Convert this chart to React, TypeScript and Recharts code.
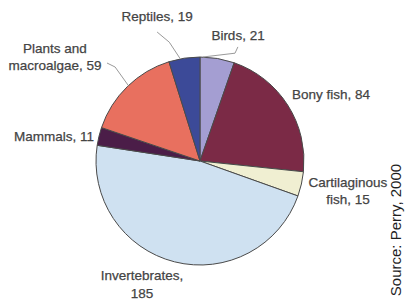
import React from 'react';
import { PieChart, Pie, Cell } from 'recharts';

const names = ['Birds', 'Bony fish', 'Cartilaginous fish', 'Invertebrates', 'Mammals', 'Plants and macroalgae', 'Reptiles'];
const values = [21, 84, 15, 185, 11, 59, 19];
const labelLines: string[][] = [
  ['Birds, 21'],
  ['Bony fish, 84'],
  ['Cartilaginous', 'fish, 15'],
  ['Invertebrates,', '185'],
  ['Mammals, 11'],
  ['Plants and', 'macroalgae, 59'],
  ['Reptiles, 19'],
];
const colors = ['#a49ed2', '#7b2a46', '#f0efd2', '#cfe1f1', '#4b1d48', '#e8705f', '#3c4a98'];
const sourceText = 'Source: Perry, 2000';

// label placement: polar angle (deg), distance as fraction of outer radius, anchor
const labelPlace: { a: number; d: number; anchor: 'start' | 'middle' | 'end' }[] = [
  { a: 73.2, d: 1.265, anchor: 'middle' },
  { a: 35.7, d: 1.088, anchor: 'start' },
  { a: -11.5, d: 1.452, anchor: 'middle' },
  { a: -115.2, d: 1.312, anchor: 'middle' },
  { a: 167.2, d: 1.045, anchor: 'end' },
  { a: 144.35, d: 1.716, anchor: 'middle' },
  { a: 106.6, d: 1.445, anchor: 'middle' },
];
// leader lines: polar points [angle, radius fraction]
const leaders: ([number, number][] | null)[] = [
  [[88.4, 1.0], [72, 1.09], [71.6, 1.156]],
  null,
  null,
  null,
  null,
  [[133.5, 1.0], [132.1, 1.218], [133.5, 1.299]],
  [[100.9, 1.0], [104.5, 1.18], [108.4, 1.307]],
];

const data = names.map((n, i) => ({ name: n, value: values[i] }));

const RAD = Math.PI / 180;
const polar = (cx: number, cy: number, r: number, a: number) => [cx + r * Math.cos(a * RAD), cy - r * Math.sin(a * RAD)];

const renderLabel = (props: any) => {
  const { cx, cy, outerRadius, index } = props;
  const p = labelPlace[index];
  const [x, y] = polar(cx, cy, outerRadius * p.d, p.a);
  const lines = labelLines[index];
  const lh = 17.5;
  const y0 = y - ((lines.length - 1) * lh) / 2;
  const lead = leaders[index];
  let path = '';
  if (lead) {
    path = lead
      .map((pt, k) => {
        const [px, py] = polar(cx, cy, outerRadius * pt[1], pt[0]);
        return `${k === 0 ? 'M' : 'L'}${px.toFixed(1)},${py.toFixed(1)}`;
      })
      .join(' ');
  }
  return (
    <g key={`lbl-${index}`}>
      {lead && <path d={path} fill="none" stroke="#9a9a9a" strokeWidth={1} />}
      <text
        x={x}
        textAnchor={p.anchor}
        fontFamily="'Liberation Sans', Arial, sans-serif"
        fontSize={13.5}
        fill="#444444"
        stroke="#444444"
        strokeWidth={0.25}
      >
        {lines.map((t, k) => (
          <tspan key={k} x={x} y={y0 + k * lh} dominantBaseline="central">
            {t}
          </tspan>
        ))}
      </text>
    </g>
  );
};

export default function App() {
  return (
    <div style={{ position: 'absolute', left: 0, top: 0, width: 405, height: 302, background: '#fff' }}>
      <PieChart width={405} height={302} margin={{ top: 0, right: 0, bottom: 0, left: 0 }}>
        <Pie
          data={data}
          dataKey="value"
          nameKey="name"
          cx={200}
          cy={161}
          outerRadius={104}
          startAngle={90}
          endAngle={-270}
          stroke="#4a4a4a"
          strokeWidth={1}
          label={renderLabel}
          labelLine={false}
          isAnimationActive={false}
        >
          {data.map((d, i) => (
            <Cell key={d.name} fill={colors[i]} />
          ))}
        </Pie>
      </PieChart>
      <svg width={405} height={302} style={{ position: 'absolute', left: 0, top: 0, pointerEvents: 'none' }}>
        <text
          x={401}
          y={230}
          transform="rotate(-90, 401, 230)"
          textAnchor="middle"
          fontFamily="'Liberation Sans', Arial, sans-serif"
          fontSize={15}
          fill="#1e1e1e"
        >
          {sourceText}
        </text>
      </svg>
    </div>
  );
}
